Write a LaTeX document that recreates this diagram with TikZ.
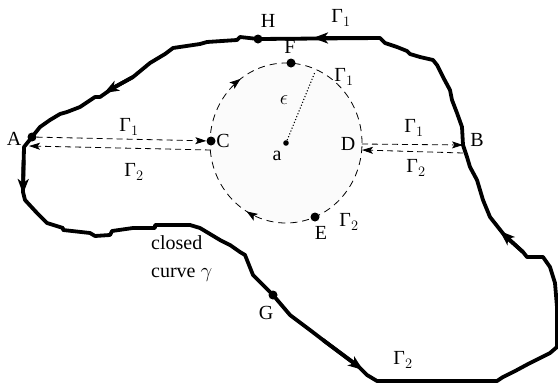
\documentclass[tikz,border=0pt]{standalone}
\usepackage{fontspec}
\setmainfont{Liberation Serif}
\usetikzlibrary{arrows.meta,decorations.markings}

\tikzset{
  curve/.style={line width=3.8pt,line join=round},
  curvearr/.style={line width=3.8pt,-{Stealth[length=15pt,width=11pt,inset=4pt]}},
  cut/.style={dash pattern=on 6pt off 4pt,line width=0.8pt,-{Stealth[length=11pt,width=7pt,inset=2.5pt]}},
  dot/.style={circle,fill,inner sep=0pt,minimum size=9pt},
  lbl/.style={font=\fontsize{20}{23}\selectfont,inner sep=1pt},
}

\begin{document}
\begin{tikzpicture}[x=1pt,y=-1pt]
  \useasboundingbox (0,0) rectangle (558,383);
  % disc round a
  \coordinate (ctr) at (286,143);
  \coordinate (R) at (315,72);
  \draw[fill=gray!3,line width=0.8pt,dash pattern=on 7pt off 5pt,
    decoration={markings,
      mark=at position 0.35 with {\arrowreversed{Stealth[length=11pt,width=8pt,inset=2.5pt]}},
      mark=at position 0.665 with {\arrowreversed{Stealth[length=11pt,width=8pt,inset=2.5pt]}}},
    postaction=decorate] (ctr) ellipse [x radius=76pt,y radius=80pt];
  \fill (ctr) circle (2.8pt);
  \draw[dotted,line width=1.1pt] (ctr) -- (R);

  \node[dot] (A) at (32,137) {};
  \node[dot] (C) at (211,141) {};
  \node[dot] (F) at (291,63) {};
  \node[dot] (E) at (315,217) {};
  \node[dot] (H) at (258,39) {};
  \node[dot] (G) at (273,295) {};
  \coordinate (D) at (362,144);
  \coordinate (B) at (463,145);

  % the closed curve
  \draw[curve] (B) -- (462,127) -- (457,113) -- (452,100) -- (450,90) -- (443,77)
    -- (437,65) -- (433,60) -- (420,57) -- (410,54) -- (407,51) -- (397,47) -- (385,43)
    -- (380,38) -- (H.center) -- (240,37) -- (237,40) -- (207,42) -- (200,44)
    -- (173,48) -- (165,54) -- (150,63) -- (133,77) -- (113,88) -- (100,97) -- (95,97)
    -- (80,107) -- (67,112) -- (60,114) -- (50,120) -- (40,127) -- (A.center)
    -- (24,147) -- (23,192) -- (25,200) -- (37,213) -- (47,223) -- (63,228) -- (63,230)
    -- (90,233) -- (95,236) -- (110,235) -- (112,231) -- (133,228) -- (155,228)
    -- (155,225) -- (190,225) -- (200,228) -- (220,240) -- (230,245) -- (240,252)
    -- (245,255) -- (253,275) -- (G.center) -- (290,315) -- (310,330) -- (323,340)
    -- (358,366) -- (367,375) -- (377,381) -- (497,381) -- (503,377) -- (517,370)
    -- (530,363) -- (550,353) -- (557,347) -- (557,307) -- (555,283) -- (550,267)
    -- (543,257) -- (527,257) -- (523,252) -- (505,236) -- (490,217) -- (483,200)
    -- (477,180) -- (470,167) -- (467,157) -- cycle;
  % direction marks
  \draw[curvearr] (380,38) -- (313,38);
  \draw[curvearr] (133,77) -- (104,93);
  \draw[curvearr] (23.5,160) -- (23,194);
  \draw[curvearr] (323,340) -- (363,370);
  \draw[curvearr] (523,252) -- (500,231);

  % cuts
  \draw[cut] (A) -- (C);
  \draw[cut] ([yshift=-9pt]C.center) -- ([xshift=-3pt,yshift=-9pt]A.center);
  \draw[cut] (D) -- (B);
  \draw[cut] ([yshift=-8pt]B) -- ([yshift=-6pt]D);

  \node[lbl] (lA) at (14,139) {A};
  \node[lbl] (lB) at (477,140) {B};
  \node[lbl] (lC) at (223,141) {C};
  \node[lbl] (lD) at (348,144) {D};
  \node[lbl] (lE) at (321,233) {E};
  \node[lbl] (lF) at (290,47) {F};
  \node[lbl] (lG) at (266,313) {G};
  \node[lbl] (lH) at (268,21) {H};
  \node[lbl] (la) at (277,156) {a};
  \node[lbl] (leps) at (284,100) {$\epsilon$};
  \node[lbl] (g1top) at (341,18) {$\mbox{Γ}_1$};
  \node[lbl] (g1circ) at (344,77) {$\mbox{Γ}_1$};
  \node[lbl] (g2circ) at (349,222) {$\mbox{Γ}_2$};
  \node[lbl] (g1left) at (129,127) {$\mbox{Γ}_1$};
  \node[lbl] (g2left) at (134,172) {$\mbox{Γ}_2$};
  \node[lbl] (g1right) at (414,128) {$\mbox{Γ}_1$};
  \node[lbl] (g2right) at (416,168) {$\mbox{Γ}_2$};
  \node[lbl] (g2bot) at (403,360) {$\mbox{Γ}_2$};
  \node[lbl,align=left,anchor=north west,font=\fontsize{20}{28}\selectfont] (name) at (150,234) {closed\\curve $\gamma$};
\end{tikzpicture}
\end{document}
